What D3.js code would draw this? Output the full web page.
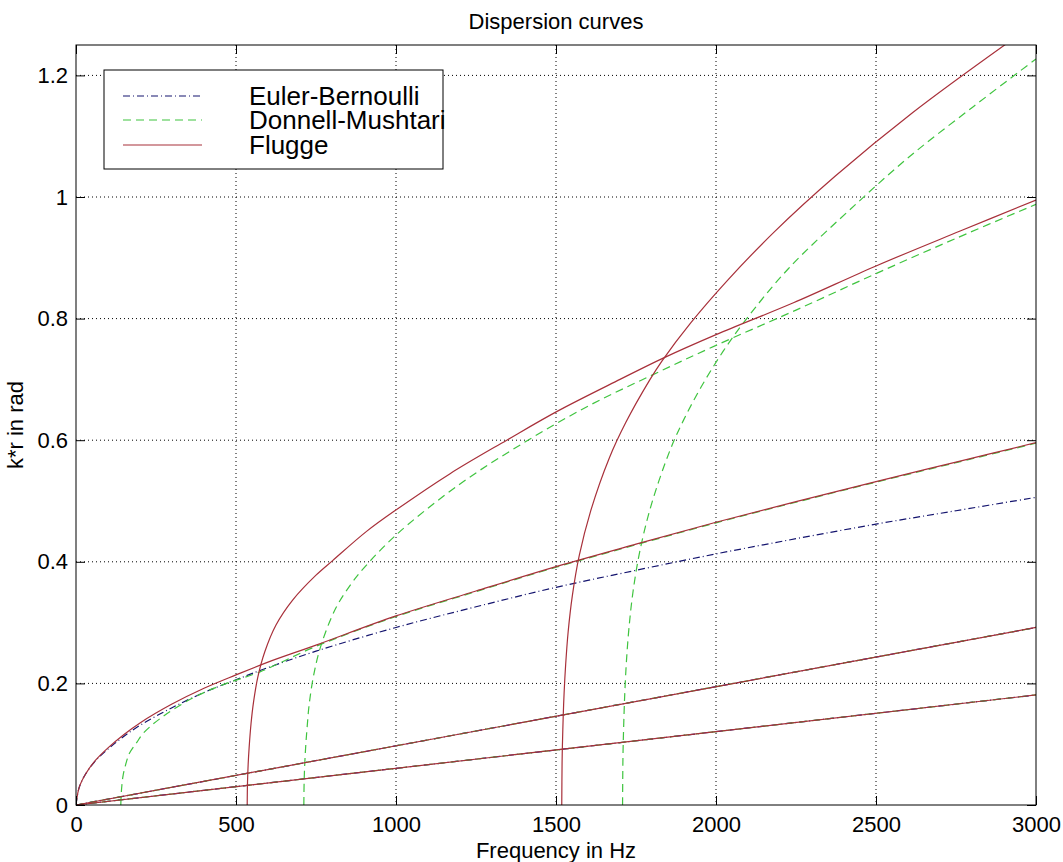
<!DOCTYPE html>
<html lang="en">
<head>
  <meta charset="UTF-8" />
  <title>Dispersion curves</title>
  <style>
    body {
      margin: 0;
      background: #fff;
    }

    text {
      font-family: 'Liberation Sans', Arial, Helvetica, sans-serif;
      fill: #000;
    }

    .grid line {
      stroke: #000;
      stroke-width: 1;
      stroke-dasharray: 1, 3;
    }

    .frame {
      fill: none;
      stroke: #000;
      stroke-width: 1;
    }
  </style>
  <script src="https://d3js.org/d3.v7.min.js"></script>
</head>
<body>
  <svg id="chart" width="1063" height="862"></svg>

  <script>
    // axis ticks
    const freqTicks = [0, 500, 1000, 1500, 2000, 2500, 3000];
    const krTicks = [0, 0.2, 0.4, 0.6, 0.8, 1, 1.2];

    // straight branches (same in all three theories)
    const lineFreq = [0, 3000];
    const lineUpperKr = [0, 0.292];
    const lineLowerKr = [0, 0.181];

    // Euler-Bernoulli bending branch
    const ebFreq = [0, 10, 30, 60, 100, 150, 200, 300, 400, 500, 600, 750, 1000, 1250, 1500, 1750, 2000, 2250, 2500, 2750, 3000];
    const ebKr = [0, 0.029, 0.051, 0.072, 0.092, 0.113, 0.131, 0.160, 0.185, 0.206, 0.226, 0.253, 0.292, 0.326, 0.358, 0.386, 0.413, 0.438, 0.462, 0.484, 0.506];

    // Donnell-Mushtari branches
    const dmAFreq = [140, 141, 143, 147, 155, 167, 190, 210, 270, 365, 460, 575, 750, 1000, 1250, 1500, 1750, 2000, 2250, 2500, 2750, 3000];
    const dmAKr = [0, 0.015, 0.03, 0.048, 0.066, 0.085, 0.103, 0.118, 0.145, 0.176, 0.198, 0.219, 0.261, 0.310, 0.351, 0.391, 0.428, 0.464, 0.498, 0.531, 0.563, 0.595];
    const dmBFreq = [712, 713, 715, 718, 722, 729, 744, 766, 812, 859, 900, 1000, 1200, 1400, 1600, 1800, 2000, 2250, 2500, 2750, 3000];
    const dmBKr = [0, 0.04, 0.069, 0.098, 0.126, 0.167, 0.217, 0.263, 0.324, 0.363, 0.390, 0.444, 0.528, 0.596, 0.656, 0.707, 0.756, 0.814, 0.874, 0.932, 0.988];
    const dmCFreq = [1708, 1709, 1710, 1712.5, 1715.4, 1720.2, 1728, 1741, 1762.6, 1798, 1856, 1898.6, 1953, 2022, 2096, 2226, 2443, 2606, 2805, 3000];
    const dmCKr = [0, 0.070, 0.0995, 0.148, 0.189, 0.237, 0.291, 0.352, 0.419, 0.494, 0.583, 0.633, 0.687, 0.746, 0.800, 0.882, 0.991, 1.067, 1.149, 1.227];

    // Flugge branches
    const flAFreq = [0, 10, 30, 60, 100, 150, 200, 300, 400, 500, 600, 750, 1000, 1250, 1500, 1750, 2000, 2250, 2500, 2750, 3000];
    const flAKr = [0, 0.029, 0.051, 0.073, 0.094, 0.116, 0.135, 0.166, 0.192, 0.214, 0.235, 0.263, 0.311, 0.352, 0.392, 0.429, 0.465, 0.499, 0.532, 0.564, 0.596];
    const flBFreq = [535, 536, 538, 541, 547, 555, 568, 590, 625, 677, 750, 802, 908, 1002, 1169, 1346, 1502, 1700, 1835, 2002, 2242, 2502, 2763, 3000];
    const flBKr = [0, 0.038, 0.067, 0.094, 0.134, 0.170, 0.210, 0.252, 0.296, 0.337, 0.378, 0.402, 0.450, 0.486, 0.545, 0.600, 0.647, 0.700, 0.735, 0.774, 0.826, 0.887, 0.944, 0.995];
    const flCFreq = [1518, 1519, 1520, 1522.5, 1525.4, 1530.2, 1538, 1551, 1572.6, 1608, 1666, 1718, 1794, 1832, 1921, 2036, 2183, 2372, 2615, 2926];
    const flCKr = [0, 0.069, 0.097, 0.145, 0.185, 0.231, 0.285, 0.344, 0.410, 0.483, 0.570, 0.629, 0.700, 0.731, 0.793, 0.863, 0.943, 1.034, 1.139, 1.259];

    const models = [
      {
        name: 'Euler-Bernoulli',
        color: '#14146e',
        dash: '7,3,1,3',
        branches: [[ebFreq, ebKr], [lineFreq, lineUpperKr], [lineFreq, lineLowerKr]],
      },
      {
        name: 'Donnell-Mushtari',
        color: '#3fc43f',
        dash: '8,5',
        branches: [[dmAFreq, dmAKr], [dmBFreq, dmBKr], [dmCFreq, dmCKr], [lineFreq, lineUpperKr], [lineFreq, lineLowerKr]],
      },
      {
        name: 'Flugge',
        color: '#a8303a',
        dash: null,
        branches: [[flAFreq, flAKr], [flBFreq, flBKr], [flCFreq, flCKr], [lineFreq, lineUpperKr], [lineFreq, lineLowerKr]],
      },
    ];

    const plot = { left: 76, right: 1036, top: 45, bottom: 805 };

    const svg = d3.select('#chart');

    const x = d3.scaleLinear().domain([0, 3000]).range([plot.left, plot.right]);
    const y = d3.scaleLinear().domain([0, 1.25]).range([plot.bottom, plot.top]);

    svg.append('rect')
      .attr('width', 1063)
      .attr('height', 862)
      .attr('fill', '#fff');

    svg.append('defs')
      .append('clipPath')
      .attr('id', 'plot-clip')
      .append('rect')
      .attr('x', plot.left)
      .attr('y', plot.top)
      .attr('width', plot.right - plot.left)
      .attr('height', plot.bottom - plot.top);

    // dotted grid
    const grid = svg.append('g').attr('class', 'grid');
    grid.selectAll('.vgrid')
      .data(freqTicks.filter((d) => d > 0 && d < 3000))
      .enter()
      .append('line')
      .attr('x1', (d) => x(d))
      .attr('x2', (d) => x(d))
      .attr('y1', plot.top)
      .attr('y2', plot.bottom);
    grid.selectAll('.hgrid')
      .data(krTicks.filter((d) => d > 0))
      .enter()
      .append('line')
      .attr('x1', plot.left)
      .attr('x2', plot.right)
      .attr('y1', (d) => y(d))
      .attr('y2', (d) => y(d));

    // curves
    const line = d3.line()
      .x((d) => x(d[0]))
      .y((d) => y(d[1]))
      .curve(d3.curveCatmullRom.alpha(0.5));

    const curves = svg.append('g').attr('clip-path', 'url(#plot-clip)');
    models.forEach((m) => {
      m.branches.forEach(([fs, ks]) => {
        const pts = fs.map((f, i) => [f, ks[i]]);
        curves.append('path')
          .attr('d', line(pts))
          .attr('fill', 'none')
          .attr('stroke', m.color)
          .attr('stroke-width', 1.2)
          .attr('stroke-dasharray', m.dash);
      });
    });

    // axes: bottom/left with labels, top/right ticks only
    const tickLen = 9;
    svg.append('g')
      .attr('transform', `translate(0,${plot.bottom})`)
      .call(d3.axisBottom(x).tickValues(freqTicks).tickSizeInner(-tickLen).tickSizeOuter(0).tickPadding(11).tickFormat(d3.format('d')))
      .call((g) => g.select('.domain').remove())
      .call((g) => g.selectAll('text').attr('font-size', 22).attr('font-family', null));
    svg.append('g')
      .attr('transform', `translate(0,${plot.top})`)
      .call(d3.axisTop(x).tickValues(freqTicks).tickSizeInner(-tickLen).tickSizeOuter(0).tickFormat(''))
      .call((g) => g.select('.domain').remove());
    svg.append('g')
      .attr('transform', `translate(${plot.left},0)`)
      .call(d3.axisLeft(y).tickValues(krTicks).tickSizeInner(-tickLen).tickSizeOuter(0).tickPadding(8).tickFormat(d3.format('~g')))
      .call((g) => g.select('.domain').remove())
      .call((g) => g.selectAll('text').attr('font-size', 22).attr('font-family', null));
    svg.append('g')
      .attr('transform', `translate(${plot.right},0)`)
      .call(d3.axisRight(y).tickValues(krTicks).tickSizeInner(-tickLen).tickSizeOuter(0).tickFormat(''))
      .call((g) => g.select('.domain').remove());

    svg.selectAll('.tick line').attr('stroke', '#000');

    svg.append('rect')
      .attr('class', 'frame')
      .attr('x', plot.left)
      .attr('y', plot.top)
      .attr('width', plot.right - plot.left)
      .attr('height', plot.bottom - plot.top);

    // titles
    svg.append('text')
      .attr('x', (plot.left + plot.right) / 2)
      .attr('y', 29)
      .attr('text-anchor', 'middle')
      .attr('font-size', 22)
      .text('Dispersion curves');
    svg.append('text')
      .attr('x', (plot.left + plot.right) / 2)
      .attr('y', 858)
      .attr('text-anchor', 'middle')
      .attr('font-size', 22)
      .text('Frequency in Hz');
    svg.append('text')
      .attr('transform', `translate(23,${(plot.top + plot.bottom) / 2}) rotate(-90)`)
      .attr('text-anchor', 'middle')
      .attr('font-size', 22)
      .text('k*r in rad');

    // legend
    const legend = svg.append('g');
    legend.append('rect')
      .attr('x', 104)
      .attr('y', 70)
      .attr('width', 339)
      .attr('height', 99)
      .attr('fill', '#fff')
      .attr('stroke', '#000')
      .attr('stroke-width', 1);
    const rowY = [96, 120, 145];
    models.forEach((m, i) => {
      legend.append('line')
        .attr('x1', 123)
        .attr('x2', 202)
        .attr('y1', rowY[i])
        .attr('y2', rowY[i])
        .attr('stroke', m.color)
        .attr('stroke-width', 1.2)
        .attr('stroke-dasharray', m.dash);
      legend.append('text')
        .attr('x', 249)
        .attr('y', rowY[i] + 9)
        .attr('font-size', 26)
        .text(m.name);
    });
  </script>
</body>
</html>
